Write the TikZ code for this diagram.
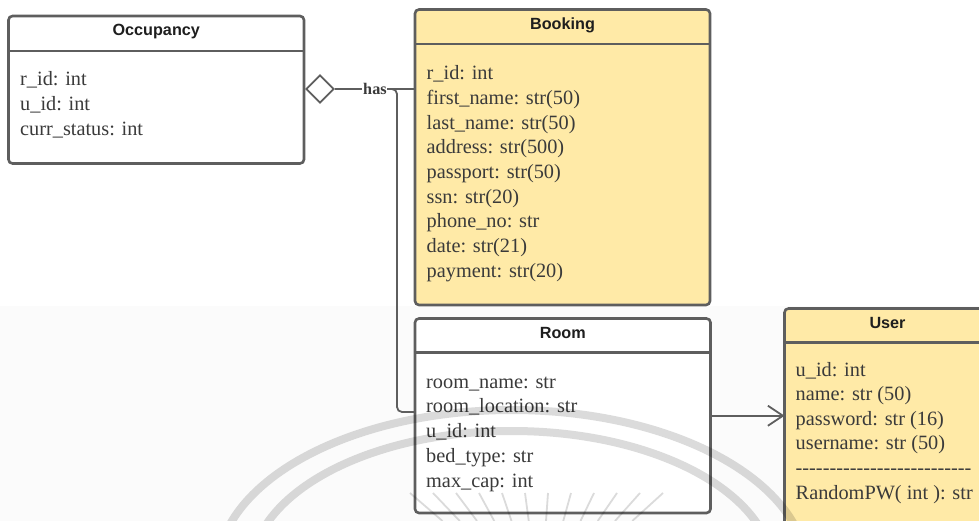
\documentclass[tikz,border=0pt]{standalone}
\usepackage{fontspec}
\setmainfont{Liberation Serif}
\newfontfamily\titlefont{Liberation Sans}
\usetikzlibrary{shapes.geometric,arrows.meta}

\definecolor{edgegray}{HTML}{5E5E5E}
\definecolor{notefill}{HTML}{FFEAA7}
\definecolor{attrtext}{HTML}{3A3A3A}
\definecolor{titletext}{HTML}{1E1E1E}

% a row of plain hyphens, boxed one by one so no dash ligature forms
\newcommand\dashrow{\foreach \j in {1,...,26}{\mbox{-}}}

\begin{document}
\begin{tikzpicture}[x=1pt,y=-1pt,
  classbox/.style={draw=edgegray, line width=2.6pt, rounded corners=4pt,
    anchor=north west, inner sep=0pt, outer sep=0pt},
  divider/.style={draw=edgegray, line width=2.6pt},
  classtitle/.style={font=\titlefont\bfseries\fontsize{16.2}{18}\selectfont,
    text=titletext, anchor=center, inner sep=0pt},
  attr/.style={font=\fontsize{20.3}{24.7}\selectfont, text=attrtext,
    anchor=base west, inner sep=0pt},
  link/.style={draw=edgegray, line width=1.8pt},
  haslabel/.style={font=\bfseries\fontsize{16.2}{18}\selectfont, text=attrtext,
    fill=white, inner sep=0.8pt},
]
\useasboundingbox (0,0) rectangle (979,521);
\clip (0,0) rectangle (979,521);
\fill[white] (0,0) rectangle (979,306);
\fill[black!1.5] (0,306) rectangle (979,521);

% Occupancy
\node[classbox, fill=white, minimum width=295.5pt, minimum height=147.5pt] (occ) at (8.5,16) {};
\draw[divider] ([yshift=-35pt]occ.north west) -- ([yshift=-35pt]occ.north east);
\node[classtitle] (occ-title) at ([yshift=-16pt]occ.north) {Occupancy};
\foreach \t [count=\i] in {r\_id: int, u\_id: int, curr\_status: int}
  \node[attr] (occ-\i) at (20, {86+24.65*(\i-1)}) {\t};

% Booking
\node[classbox, fill=notefill, minimum width=295pt, minimum height=295.5pt] (bk) at (415,9.5) {};
\draw[divider] ([yshift=-34.5pt]bk.north west) -- ([yshift=-34.5pt]bk.north east);
\node[classtitle] (bk-title) at ([yshift=-15.5pt]bk.north) {Booking};
\foreach \t [count=\i] in {r\_id: int, first\_name: str(50), last\_name: str(50),
    address: str(500), passport: str(50), ssn: str(20), phone\_no: str,
    date: str(21), payment: str(20)}
  \node[attr] (bk-\i) at (426.5, {80+24.65*(\i-1)}) {\t};

% Room
\node[classbox, fill=white, minimum width=295.5pt, minimum height=194.5pt] (rm) at (415,318.5) {};
\draw[divider] ([yshift=-33.8pt]rm.north west) -- ([yshift=-33.8pt]rm.north east);
\node[classtitle] (rm-title) at ([yshift=-14.8pt]rm.north) {Room};
\foreach \t [count=\i] in {room\_name: str, room\_location: str, u\_id: int,
    bed\_type: str, max\_cap: int}
  \node[attr] (rm-\i) at (426, {388+24.8*(\i-1)}) {\t};

% User
\node[classbox, fill=notefill, minimum width=206pt, minimum height=260pt] (usr) at (784.5,308.5) {};
\draw[divider] ([yshift=-34.2pt]usr.north west) -- ([yshift=-34.2pt]usr.north east);
\node[classtitle] (usr-title) at ([yshift=-15pt]usr.north) {User};
\foreach \t [count=\i] in {u\_id: int, name: str (50), password: str (16),
    username: str (50), \dashrow, RandomPW( int ): str}
  \node[attr] (usr-\i) at (795.5, {376+24.6*(\i-1)}) {\t};

% aggregation: Occupancy has Booking and Room
\node[diamond, draw=edgegray, line width=1.8pt, fill=white, inner sep=0pt,
  minimum width=28pt, minimum height=28pt] (agg) at (320,89) {};
\coordinate (bend) at (397,412);
\draw[link, rounded corners=5pt] (agg.east) -| (bend) -- (rm.west |- bend);
\draw[link] (agg.east) -- node[haslabel] (has) {has} (bk.west |- agg.east);

% Room uses User
\draw[link, -{Straight Barb[length=15pt,width=20pt]}] (rm.east) -- (usr.west |- rm.east);

% faint seal printed across the lower half
\begin{scope}[opacity=0.14]
  \draw[black, line width=8pt] (512,572) ellipse [x radius=295, y radius=162];
  \draw[black, line width=8pt] (512,572) ellipse [x radius=261, y radius=141];
  \foreach \k in {0,...,11} {
    \pgfmathsetmacro\xt{410+23*\k}
    \pgfmathsetmacro\xb{540+(\xt-540)*0.75}
    \draw[black, line width=1.8pt] (\xt,493) -- (\xb,521);
  }
\end{scope}
\end{tikzpicture}
\end{document}
